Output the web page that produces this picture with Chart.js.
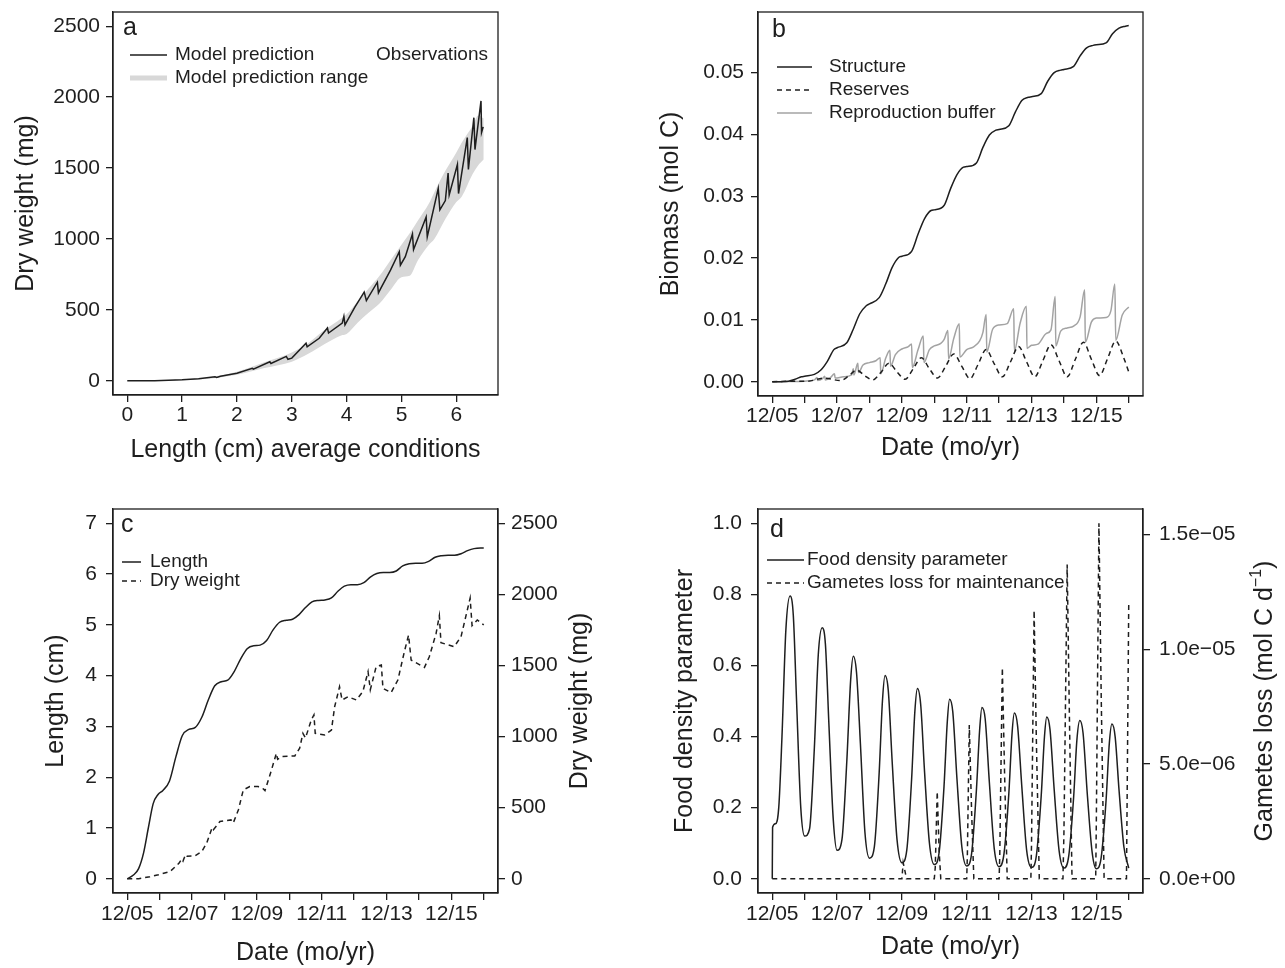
<!DOCTYPE html>
<html>
<head>
<meta charset="utf-8">
<title>DEB model simulations</title>
<script src="https://cdn.jsdelivr.net/npm/chart.js@4.4.1/dist/chart.umd.min.js"></script>
<style>
  html, body { margin: 0; padding: 0; background: #fff; }
  #fig { position: relative; width: 1285px; height: 968px; }
  #fig canvas { position: absolute; }
</style>
</head>
<body>
<div id="fig">
  <canvas id="panel-a" width="642" height="484" style="left:0;top:0;width:642px;height:484px"></canvas>
  <canvas id="panel-b" width="643" height="484" style="left:642px;top:0;width:643px;height:484px"></canvas>
  <canvas id="panel-c" width="642" height="484" style="left:0;top:484px;width:642px;height:484px"></canvas>
  <canvas id="panel-d" width="643" height="484" style="left:642px;top:484px;width:643px;height:484px"></canvas>
</div>
<script>
// ---- panel a: dry weight against length ----
const aLength = [0, 0.5, 1.0, 1.3, 1.6, 1.63, 1.7, 2.0, 2.28, 2.3, 2.6, 2.62, 2.9, 2.93, 3.0, 3.26, 3.28, 3.5, 3.65, 3.67,
  3.92, 3.95, 3.97, 4.15, 4.32, 4.36, 4.56, 4.58, 4.62, 4.8, 4.96, 4.98, 5.07, 5.2, 5.22, 5.45, 5.47, 5.67, 5.7, 5.8,
  5.85, 5.87, 6.02, 6.04, 6.2, 6.22, 6.32, 6.34, 6.45, 6.46, 6.49];
const aWeight = [0, 1, 7, 14, 28, 24, 32, 54, 88, 82, 134, 122, 172, 152, 160, 265, 240, 300, 372, 337,
  407, 454, 395, 520, 625, 566, 695, 620, 650, 780, 910, 815, 875, 1035, 925, 1155, 1015, 1355, 1205, 1271,
  1465, 1310, 1525, 1320, 1715, 1490, 1855, 1630, 1973, 1750, 1790];
const aBandLength = [0, 0.5, 1, 1.5, 2, 2.5, 3, 3.3, 3.6, 3.9, 4.0, 4.2, 4.4, 4.6, 4.8, 5.0, 5.15, 5.3, 5.5, 5.6, 5.8, 6.0, 6.1, 6.3, 6.4, 6.5];
const aBandLow = [0, 0, 4, 14, 42, 90, 135, 190, 260, 320, 330, 410, 480, 545, 640, 730, 740, 850, 960, 1000, 1140, 1260, 1300, 1460, 1520, 1560];
const aBandHigh = [0, 2, 10, 26, 64, 130, 200, 265, 360, 440, 470, 560, 650, 740, 850, 960, 1040, 1130, 1250, 1330, 1480, 1610, 1680, 1800, 1870, 1850];

// ---- panel b: biomass compartments (years since 12/05) ----
const bStructTime = [0, 0.3, 0.5, 0.7, 0.9, 1, 1.3, 1.5, 1.7, 1.9, 2, 2.3, 2.5, 2.7, 2.9, 3, 3.3, 3.5, 3.7, 3.9,
  4, 4.3, 4.5, 4.7, 4.9, 5, 5.3, 5.5, 5.7, 5.9, 6, 6.3, 6.5, 6.7, 6.9, 7, 7.3, 7.5, 7.7, 7.9,
  8, 8.3, 8.5, 8.7, 8.9, 9, 9.3, 9.5, 9.7, 9.9, 10, 10.3, 10.5, 10.7, 10.9, 11];
const bStructure = [0, 0.00002, 0.0001, 0.0004, 0.0008, 0.0009, 0.0012, 0.0019, 0.0033, 0.0052,
  0.0055, 0.0063, 0.0085, 0.0110, 0.0123, 0.0126, 0.0136, 0.0158, 0.0185, 0.0201,
  0.0203, 0.0211, 0.0239, 0.0264, 0.0277, 0.0278, 0.0285, 0.0312, 0.0335, 0.0347,
  0.0348, 0.0354, 0.0379, 0.0399, 0.0407, 0.0408, 0.0414, 0.0436, 0.0455, 0.0460,
  0.0461, 0.0466, 0.0486, 0.0500, 0.0504, 0.0505, 0.0510, 0.0527, 0.0540, 0.0544,
  0.0545, 0.0548, 0.0563, 0.0572, 0.0575, 0.0576];
const bResTime = [0, 0.6, 1.1, 1.6, 2.1, 2.35, 2.6, 2.85, 3.1, 3.35, 3.6, 3.85, 4.1, 4.35, 4.6, 4.85, 5.1, 5.35, 5.6, 5.85,
  6.1, 6.35, 6.6, 6.85, 7.1, 7.35, 7.6, 7.85, 8.1, 8.35, 8.6, 8.85, 9.1, 9.35, 9.6, 9.85, 10.1, 10.35, 10.6, 10.85, 11];
const bReserves = [0, 0.0001, 0.0001, 0.0006, 0.0002, 0.0009, 0.0019, 0.0010, 0.0003, 0.0015, 0.0030, 0.0016,
  0.0004, 0.0021, 0.0039, 0.0021, 0.0006, 0.0025, 0.0045, 0.0025, 0.0005, 0.0028, 0.0052, 0.0029,
  0.0008, 0.0032, 0.0057, 0.0032, 0.0008, 0.0034, 0.0060, 0.0034, 0.0008, 0.0036, 0.0064, 0.0036,
  0.0010, 0.0038, 0.0066, 0.0038, 0.0016];
const bBufTime = [0, 0.5, 1.0, 1.3, 1.38, 1.40, 1.55, 1.62, 1.64, 1.8, 1.92, 1.94, 2.2, 2.45, 2.5, 2.52, 2.64, 2.66, 2.8, 3.0,
  3.2, 3.33, 3.35, 3.5, 3.63, 3.65, 3.8, 4.0, 4.2, 4.3, 4.32, 4.5, 4.66, 4.68, 4.85, 5.0, 5.2, 5.3, 5.42, 5.44,
  5.6, 5.77, 5.79, 6.0, 6.2, 6.4, 6.5, 6.6, 6.62, 6.8, 7.0, 7.25, 7.45, 7.47, 7.65, 7.84, 7.86, 8.0, 8.2, 8.45,
  8.6, 8.73, 8.75, 8.9, 9.1, 9.3, 9.5, 9.64, 9.66, 9.85, 10.0, 10.3, 10.45, 10.57, 10.6, 10.8, 11.0];
const bBuffer = [0, 0.00003, 0.0001, 0.0003, 0.0007, 0.0002, 0.0005, 0.0009, 0.0003, 0.0007, 0.0013, 0.0006, 0.0008, 0.0011, 0.0021, 0.0011, 0.0030, 0.0015, 0.0027, 0.0031,
  0.0034, 0.0039, 0.0013, 0.0038, 0.0051, 0.0025, 0.0044, 0.0053, 0.0057, 0.0061, 0.0023, 0.0052, 0.0074, 0.0031, 0.0052, 0.0058, 0.0062, 0.0068, 0.0083, 0.0037,
  0.0070, 0.0094, 0.0040, 0.0052, 0.0056, 0.0066, 0.0080, 0.0109, 0.0048, 0.0085, 0.0092, 0.0094, 0.0118, 0.0050, 0.0095, 0.0122, 0.0054, 0.0059, 0.0061, 0.0078,
  0.0084, 0.0138, 0.0058, 0.0082, 0.0087, 0.0090, 0.0105, 0.0149, 0.0064, 0.0097, 0.0103, 0.0104, 0.0115, 0.0158, 0.0067, 0.0108, 0.0121];

// ---- panel c: length and dry weight over time ----
const cLenTime = [0, 0.2, 0.35, 0.5, 0.65, 0.8, 0.95, 1.1, 1.3, 1.5, 1.7, 1.9, 2.1, 2.3, 2.5, 2.7, 2.9, 3.1, 3.3, 3.5, 3.7, 3.9,
  4.1, 4.3, 4.5, 4.7, 4.9, 5.1, 5.3, 5.5, 5.7, 5.9, 6.1, 6.3, 6.5, 6.7, 6.9, 7.1, 7.3, 7.5, 7.7, 7.9,
  8.1, 8.3, 8.5, 8.7, 8.9, 9.1, 9.3, 9.5, 9.7, 9.9, 10.1, 10.3, 10.5, 10.7, 10.9, 11];
const cLength = [0, 0.08, 0.2, 0.5, 1.0, 1.48, 1.66, 1.74, 1.92, 2.4, 2.82, 2.94, 2.98, 3.18, 3.52, 3.8, 3.88, 3.91, 4.08, 4.33, 4.53, 4.59,
  4.6, 4.69, 4.9, 5.05, 5.09, 5.11, 5.2, 5.34, 5.45, 5.48, 5.49, 5.53, 5.66, 5.76, 5.79, 5.79, 5.83, 5.94, 6.01, 6.03,
  6.03, 6.06, 6.16, 6.2, 6.21, 6.21, 6.25, 6.33, 6.36, 6.37, 6.37, 6.4, 6.46, 6.5, 6.51, 6.51];
const cWtTime = [0, 0.35, 0.7, 0.96, 1.32, 1.6, 1.68, 1.72, 1.8, 1.85, 2.09, 2.3, 2.45, 2.62, 2.66, 2.86, 3.2, 3.27, 3.43, 3.58,
  3.78, 4.04, 4.2, 4.25, 4.3, 4.45, 4.6, 4.64, 4.76, 5.17, 5.32, 5.42, 5.5, 5.68, 5.76, 5.8, 6.09, 6.3, 6.4, 6.55,
  6.63, 6.81, 7.07, 7.27, 7.43, 7.5, 7.68, 7.84, 7.89, 8.14, 8.35, 8.55, 8.68, 8.76, 9.17, 9.32, 9.53, 9.63, 9.68, 10.09,
  10.3, 10.58, 10.64, 10.8, 11];
const cWeight = [0, 0, 15, 28, 51, 110, 140, 125, 170, 158, 161, 192, 250, 360, 345, 403, 414, 392, 485, 625,
  648, 648, 632, 620, 655, 765, 882, 840, 859, 864, 918, 1023, 990, 1117, 1152, 1023, 1011, 1046, 1210, 1350,
  1257, 1280, 1257, 1316, 1456, 1330, 1491, 1503, 1339, 1309, 1397, 1596, 1713, 1538, 1486, 1561, 1725, 1850, 1660, 1632,
  1703, 1973, 1780, 1820, 1785];

// ---- panel d: food density and gametes loss ----
const dFoodTime = [0, 0.01, 0.1, 0.2, 0.3, 0.42, 0.55, 0.65, 0.75, 0.88,
  1.0, 1.15, 1.3, 1.42, 1.54, 1.64, 1.75, 1.88, 2.0, 2.15, 2.3, 2.42, 2.5, 2.6, 2.72, 2.86,
  3.0, 3.15, 3.3, 3.4, 3.48, 3.58, 3.7, 3.85, 4.0, 4.15, 4.3, 4.4, 4.48, 4.58, 4.7, 4.85,
  5.0, 5.15, 5.3, 5.4, 5.47, 5.57, 5.7, 5.85, 6.0, 6.15, 6.3, 6.4, 6.47, 6.57, 6.7, 6.85,
  7.0, 7.15, 7.3, 7.4, 7.47, 7.57, 7.7, 7.85, 8.0, 8.15, 8.3, 8.4, 8.47, 8.57, 8.7, 8.85,
  9.0, 9.15, 9.3, 9.4, 9.49, 9.59, 9.72, 9.87, 10.0, 10.15, 10.3, 10.4, 10.48, 10.58, 10.7, 10.85, 11.0];
const dFood = [0, 0.145, 0.155, 0.2, 0.4, 0.7, 0.795, 0.74, 0.5, 0.2,
  0.12, 0.14, 0.37, 0.63, 0.706, 0.66, 0.43, 0.17, 0.08, 0.11, 0.33, 0.56, 0.626, 0.58, 0.38, 0.13,
  0.058, 0.09, 0.3, 0.5, 0.572, 0.53, 0.33, 0.11, 0.045, 0.08, 0.28, 0.47, 0.535, 0.49, 0.3, 0.1,
  0.04, 0.075, 0.26, 0.44, 0.505, 0.47, 0.28, 0.09, 0.036, 0.07, 0.25, 0.42, 0.482, 0.45, 0.27, 0.085,
  0.034, 0.07, 0.24, 0.41, 0.466, 0.43, 0.26, 0.08, 0.032, 0.065, 0.235, 0.4, 0.455, 0.42, 0.25, 0.08,
  0.03, 0.065, 0.23, 0.39, 0.445, 0.41, 0.24, 0.075, 0.028, 0.06, 0.22, 0.38, 0.435, 0.4, 0.25, 0.09, 0.03];
const dGamTime = [0, 4.0, 4.04, 4.1, 4.14, 5.0, 5.03, 5.09, 5.15, 5.2, 6.0, 6.02, 6.08, 6.15, 6.22,
  7.0, 7.02, 7.1, 7.17, 7.25, 7.98, 8.0, 8.08, 8.15, 8.24, 8.97, 9.0, 9.1, 9.17, 9.25,
  9.98, 10.0, 10.08, 10.15, 10.24, 10.93, 11.0];
const dGametes = [0, 0, 0.07e-5, 0.03e-5, 0, 0, 0.05e-5, 0.38e-5, 0.12e-5, 0, 0, 0.1e-5, 0.67e-5, 0.3e-5, 0,
  0, 0.1e-5, 0.92e-5, 0.45e-5, 0, 0, 0.15e-5, 1.17e-5, 0.6e-5, 0, 0, 0.2e-5, 1.37e-5, 0.7e-5, 0,
  0, 0.25e-5, 1.55e-5, 0.8e-5, 0, 0, 1.2e-5];

// ---- tick positions and labels ----
const dateTicks = [0, 1, 2, 3, 4, 5, 6, 7, 8, 9, 10, 11];
const dateLabels = ['12/05', '', '12/07', '', '12/09', '', '12/11', '', '12/13', '', '12/15', ''];
const lengthTicks = [0, 1, 2, 3, 4, 5, 6];
const lengthLabels = ['0', '1', '2', '3', '4', '5', '6'];
const cmTicks = [0, 1, 2, 3, 4, 5, 6, 7];
const cmLabels = ['0', '1', '2', '3', '4', '5', '6', '7'];
const mgTicks = [0, 500, 1000, 1500, 2000, 2500];
const mgLabels = ['0', '500', '1000', '1500', '2000', '2500'];
const molTicks = [0, 0.01, 0.02, 0.03, 0.04, 0.05];
const molLabels = ['0.00', '0.01', '0.02', '0.03', '0.04', '0.05'];
const foodTicks = [0, 0.2, 0.4, 0.6, 0.8, 1.0];
const foodLabels = ['0.0', '0.2', '0.4', '0.6', '0.8', '1.0'];
const gamTicks = [0, 0.5e-5, 1.0e-5, 1.5e-5];
const gamLabels = ['0.0e+00', '5.0e\u221206', '1.0e\u221205', '1.5e\u221205'];

const FONT = '"Liberation Sans", Arial, Helvetica, sans-serif';
const INK = '#1e1e1e';
const BAND = '#d8d8d8';
const GREY = '#a3a3a3';

const xy = (xs, ys) => xs.map((x, i) => ({ x, y: ys[i] }));

function axis(o) {
  return {
    type: 'linear',
    position: o.position,
    min: o.min,
    max: o.max,
    afterBuildTicks: s => { s.ticks = o.ticks.map(v => ({ value: v })); },
    afterFit: s => {
      if (s.isHorizontal()) s.height = o.size; else s.width = o.size;
      s.paddingTop = s.paddingBottom = s.paddingLeft = s.paddingRight = 0;
    },
    grid: { drawOnChartArea: false, drawTicks: true, tickLength: 7, color: INK, lineWidth: 1.3 },
    border: { display: true, color: INK, width: 1.3 },
    ticks: {
      autoSkip: false, maxRotation: 0, minRotation: 0, padding: o.pad, color: INK,
      font: { family: FONT, size: 21 },
      callback: (v, i) => o.labels[i]
    },
    title: o.title
      ? { display: true, text: o.title, color: INK, font: { family: FONT, size: 25 }, padding: { top: o.titlePad, bottom: o.titlePad } }
      : { display: false }
  };
}

function line(data, extra) {
  return Object.assign({ data, borderColor: INK, borderWidth: 1.5, pointRadius: 0, fill: false, tension: 0 }, extra || {});
}

// frame, panel letter, legend and the rotated right-hand title
const panelDecor = {
  id: 'panelDecor',
  afterDraw(chart, args, opts) {
    const { ctx, chartArea: ca } = chart;
    ctx.save();
    ctx.strokeStyle = INK;
    ctx.lineWidth = 1.3;
    ctx.strokeRect(ca.left, ca.top, ca.right - ca.left, ca.bottom - ca.top);

    ctx.fillStyle = INK;
    ctx.font = `25px ${FONT}`;
    ctx.textAlign = 'left';
    ctx.textBaseline = 'alphabetic';
    ctx.fillText(opts.letter[0], opts.letter[1], opts.letter[2]);

    ctx.font = `19px ${FONT}`;
    ctx.textBaseline = 'middle';
    for (const it of opts.legend || []) {
      if (it.x1 !== undefined) {
        ctx.beginPath();
        ctx.strokeStyle = it.color || INK;
        ctx.lineWidth = it.width || 1.5;
        ctx.setLineDash(it.dash || []);
        ctx.moveTo(it.x1, it.y);
        ctx.lineTo(it.x2, it.y);
        ctx.stroke();
        ctx.setLineDash([]);
      }
      ctx.textAlign = it.align || 'left';
      ctx.fillText(it.text, it.tx, it.y);
    }

    if (opts.side) {
      ctx.translate(opts.side.x, (ca.top + ca.bottom) / 2);
      ctx.rotate(-Math.PI / 2);
      const parts = opts.side.parts;
      const big = `25px ${FONT}`, small = `16px ${FONT}`;
      let total = 0;
      for (const p of parts) { ctx.font = p.sup ? small : big; total += ctx.measureText(p.t).width; }
      let x = -total / 2;
      ctx.textAlign = 'left';
      ctx.textBaseline = 'middle';
      for (const p of parts) {
        ctx.font = p.sup ? small : big;
        ctx.fillText(p.t, x, p.sup ? -8 : 0);
        x += ctx.measureText(p.t).width;
      }
    }
    ctx.restore();
  }
};

function options(padTop, padRight, scales, decor) {
  return {
    responsive: false,
    animation: false,
    devicePixelRatio: 1,
    events: [],
    layout: { padding: { top: padTop, right: padRight, left: 0, bottom: 0 } },
    scales,
    plugins: { legend: { display: false }, tooltip: { enabled: false }, panelDecor: decor }
  };
}

// a
new Chart(document.getElementById('panel-a'), {
  type: 'line',
  data: {
    datasets: [
      line(xy(aLength, aWeight)),
      line(xy(aBandLength, aBandHigh), { borderWidth: 0, borderColor: 'rgba(0,0,0,0)', cubicInterpolationMode: 'monotone' }),
      line(xy(aBandLength, aBandLow), { borderWidth: 0, borderColor: 'rgba(0,0,0,0)', fill: '-1', backgroundColor: BAND, cubicInterpolationMode: 'monotone' })
    ]
  },
  options: options(12, 144, {
    x: axis({ position: 'bottom', min: -0.26, max: 6.76, ticks: lengthTicks, labels: lengthLabels, size: 89, pad: 1, title: 'Length (cm) average conditions', titlePad: 19 }),
    y: axis({ position: 'left', min: -100, max: 2600, ticks: mgTicks, labels: mgLabels, size: 113, pad: 6, title: 'Dry weight (mg)', titlePad: 11 })
  }, {
    letter: ['a', 123, 35],
    legend: [
      { x1: 130, x2: 167, y: 55, text: 'Model prediction', tx: 175 },
      { x1: 130, x2: 167, y: 78, color: BAND, width: 5, text: 'Model prediction range', tx: 175 },
      { text: 'Observations', tx: 488, y: 55, align: 'right' }
    ]
  }),
  plugins: [panelDecor]
});

// b
new Chart(document.getElementById('panel-b'), {
  type: 'line',
  data: {
    datasets: [
      line(xy(bStructTime, bStructure), { cubicInterpolationMode: 'monotone' }),
      line(xy(bResTime, bReserves), { cubicInterpolationMode: 'monotone', borderDash: [5, 4] }),
      line(xy(bBufTime, bBuffer), { cubicInterpolationMode: 'monotone', borderColor: GREY })
    ]
  },
  options: options(12, 142, {
    x: axis({ position: 'bottom', min: -0.44, max: 11.44, ticks: dateTicks, labels: dateLabels, size: 88, pad: 1, title: 'Date (mo/yr)', titlePad: 21 }),
    y: axis({ position: 'left', min: -0.0023, max: 0.0598, ticks: molTicks, labels: molLabels, size: 116, pad: 7, title: 'Biomass (mol C)', titlePad: 14 })
  }, {
    letter: ['b', 130, 37],
    legend: [
      { x1: 135, x2: 170, y: 67, text: 'Structure', tx: 187 },
      { x1: 135, x2: 170, y: 90, dash: [5, 4], text: 'Reserves', tx: 187 },
      { x1: 135, x2: 170, y: 113, color: GREY, text: 'Reproduction buffer', tx: 187 }
    ]
  }),
  plugins: [panelDecor]
});

// c
new Chart(document.getElementById('panel-c'), {
  type: 'line',
  data: {
    datasets: [
      line(xy(cLenTime, cLength), { cubicInterpolationMode: 'monotone', yAxisID: 'y' }),
      line(xy(cWtTime, cWeight), { borderDash: [5, 4], yAxisID: 'y2' })
    ]
  },
  options: options(25, 0, {
    x: axis({ position: 'bottom', min: -0.44, max: 11.44, ticks: dateTicks, labels: dateLabels, size: 75, pad: 2, title: 'Date (mo/yr)', titlePad: 0 }),
    y: axis({ position: 'left', min: -0.28, max: 7.28, ticks: cmTicks, labels: cmLabels, size: 113, pad: 9, title: 'Length (cm)', titlePad: 41 }),
    y2: axis({ position: 'right', min: -100, max: 2600, ticks: mgTicks, labels: mgLabels, size: 144, pad: 6 })
  }, {
    letter: ['c', 121, 48],
    legend: [
      { x1: 122, x2: 141, y: 78, text: 'Length', tx: 150 },
      { x1: 122, x2: 141, y: 97, dash: [5, 4], text: 'Dry weight', tx: 150 }
    ],
    side: { x: 580, parts: [{ t: 'Dry weight (mg)' }] }
  }),
  plugins: [panelDecor]
});

// d
new Chart(document.getElementById('panel-d'), {
  type: 'line',
  data: {
    datasets: [
      line(xy(dFoodTime, dFood), { cubicInterpolationMode: 'monotone', yAxisID: 'y' }),
      line(xy(dGamTime, dGametes), { borderDash: [5, 4], yAxisID: 'y2' })
    ]
  },
  options: options(25, 0, {
    x: axis({ position: 'bottom', min: -0.44, max: 11.44, ticks: dateTicks, labels: dateLabels, size: 75, pad: 2, title: 'Date (mo/yr)', titlePad: 6 }),
    y: axis({ position: 'left', min: -0.04, max: 1.04, ticks: foodTicks, labels: foodLabels, size: 116, pad: 9, title: 'Food density parameter', titlePad: 28 }),
    y2: axis({ position: 'right', min: -6.2e-7, max: 1.612e-5, ticks: gamTicks, labels: gamLabels, size: 142, pad: 9 })
  }, {
    letter: ['d', 128, 53],
    legend: [
      { x1: 125, x2: 162, y: 76, text: 'Food density parameter', tx: 165 },
      { x1: 125, x2: 162, y: 99, dash: [5, 4], text: 'Gametes loss for maintenance', tx: 165 }
    ],
    side: { x: 623, parts: [{ t: 'Gametes loss (mol C d' }, { t: '\u22121', sup: true }, { t: ')' }] }
  }),
  plugins: [panelDecor]
});
</script>
</body>
</html>
